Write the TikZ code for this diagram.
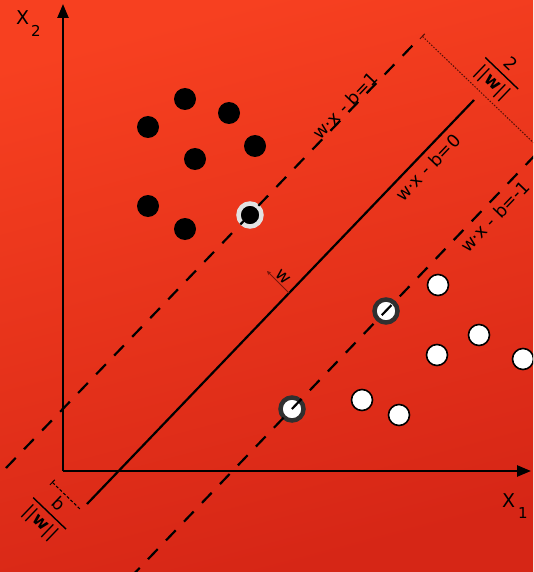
\documentclass[tikz,border=0pt]{standalone}
\usepackage{fontspec}
\setmainfont{DejaVu Sans}
\usepackage{amsmath}
\usetikzlibrary{arrows.meta}
\definecolor{bgtop}{RGB}{247,64,32}
\definecolor{bgbottom}{RGB}{214,38,22}
\definecolor{wvec}{RGB}{120,22,10}
\definecolor{svlight}{RGB}{226,226,226}
\definecolor{svdark}{RGB}{48,48,48}
\newcommand
    {\wnorm}
    {%
        ||\textbf{w}||%
    }
\newcommand
    {\marginfrac}[1]
    {%
        $\genfrac{}{}{1.4pt}{0}{\text{#1}}{\text{\,\wnorm\,}}$%
    }

\begin{document}
\begin{tikzpicture}[x=1pt,y=-1pt,font=\fontsize{17.5}{20}\selectfont,
    blackpt/.style={circle,fill=black,minimum size=22pt,inner sep=0pt},
    whitept/.style={circle,fill=white,draw=black,line width=1.6pt,minimum size=21pt,inner sep=0pt},
    blacksv/.style={circle,fill=black,draw=svlight,line width=4.5pt,minimum size=23pt,inner sep=0pt},
    whitesv/.style={circle,fill=white,draw=svdark,line width=4.5pt,minimum size=23pt,inner sep=0pt},
    axis/.style={line width=2.4pt,-{Triangle[length=14pt,width=11pt]}},
    hyper/.style={line width=2.2pt},
    marginhyper/.style={line width=2.2pt,dash pattern=on 14pt off 12pt},
    measure/.style={line width=1pt,{Bar[width=7pt]}-}]
        % 0. Canvas with the red gradient
        \useasboundingbox (0,0) rectangle (533,572);
        \clip (0,0) rectangle (533,572);
        \shade[top color=bgtop,bottom color=bgbottom,shading angle=15] (0,0) rectangle (533,572);

        % 1. Axes
        \coordinate (o) at (63,471);
        \coordinate (ytip) at (63,4);
        \coordinate (xtip) at (531,471);
        \draw[axis] (o) -- (ytip);
        \draw[axis] (o) -- (xtip);
        \node (xtwo) at (16,25) [anchor=base west,inner sep=0pt] {\fontsize{19}{22}\selectfont X\hspace{2pt}\raisebox{-12pt}{\fontsize{15}{15}\selectfont 2}};
        \node (xone) at (502,507) [anchor=base west,inner sep=0pt] {\fontsize{19}{22}\selectfont X\hspace{3pt}\raisebox{-11pt}{\fontsize{15}{15}\selectfont 1}};

        % 2. Class one (black) and class two (white)
        \node (b1) at (185,99) [blackpt] {};
        \node (b2) at (229,113) [blackpt] {};
        \node (b3) at (148,127) [blackpt] {};
        \node (b4) at (255,146) [blackpt] {};
        \node (b5) at (195,159) [blackpt] {};
        \node (b6) at (148,206) [blackpt] {};
        \node (b7) at (185,229) [blackpt] {};
        \node (bsv) at (250,215) [blacksv] {};

        \node (w1) at (438,285) [whitept] {};
        \node (w2) at (479,335) [whitept] {};
        \node (w3) at (437,355) [whitept] {};
        \node (w4) at (523,359) [whitept] {};
        \node (w5) at (362,400) [whitept] {};
        \node (w6) at (399,415) [whitept] {};
        \node (wsv1) at (386,311) [whitesv] {};
        \node (wsv2) at (292,409) [whitesv] {};

        % 3. Separating hyperplane and the two margin hyperplanes
        \coordinate (h0a) at (87,504);
        \coordinate (h0b) at (474,100);
        \coordinate (hpa) at (6,468);
        \coordinate (hpb) at (413,45);
        \coordinate (hma) at (130,578);
        \coordinate (hmb) at (540,150);
        \draw[hyper] (h0a) -- (h0b);
        \draw[marginhyper] (hpa) -- (hpb);
        \draw[marginhyper] (hma) -- (hmb);

        \node (lbl1) at (350,110) [anchor=base,rotate=46.2] {w·x - b=1};
        \node (lbl0) at (422,162) [anchor=north,inner sep=1pt,rotate=46.2] {w·x - b=0};
        \node (lblm1) at (489,211) [anchor=north,inner sep=1pt,rotate=46.2] {w·x - b=-1};

        % 4. Normal vector w
        \coordinate (wbase) at (289,293);
        \coordinate (wtip) at (267,271);
        \draw[wvec,line width=0.9pt,-{Stealth[length=4pt,width=4pt]}] (wbase) -- (wtip);
        \node (wlbl) at (278,282) [anchor=south,inner sep=1.5pt,rotate=-43.8] {w};

        % 5. Margin width and offset
        \coordinate (m1) at (422,36);
        \coordinate (m2) at (540,149);
        \draw[measure,wvec!70!black,dash pattern=on 1.5pt off 1.5pt] (m1) -- (m2);
        \node (marg) at (501,74) [rotate=-43.8] {\marginfrac{2}};

        \coordinate (off1) at (52,482);
        \coordinate (off2) at (80,509);
        \draw[measure,black,dash pattern=on 3pt off 2pt] (off1) -- (off2);
        \node (offs) at (49,514) [rotate=-43.8] {\marginfrac{b}};
\end{tikzpicture}
\end{document}
